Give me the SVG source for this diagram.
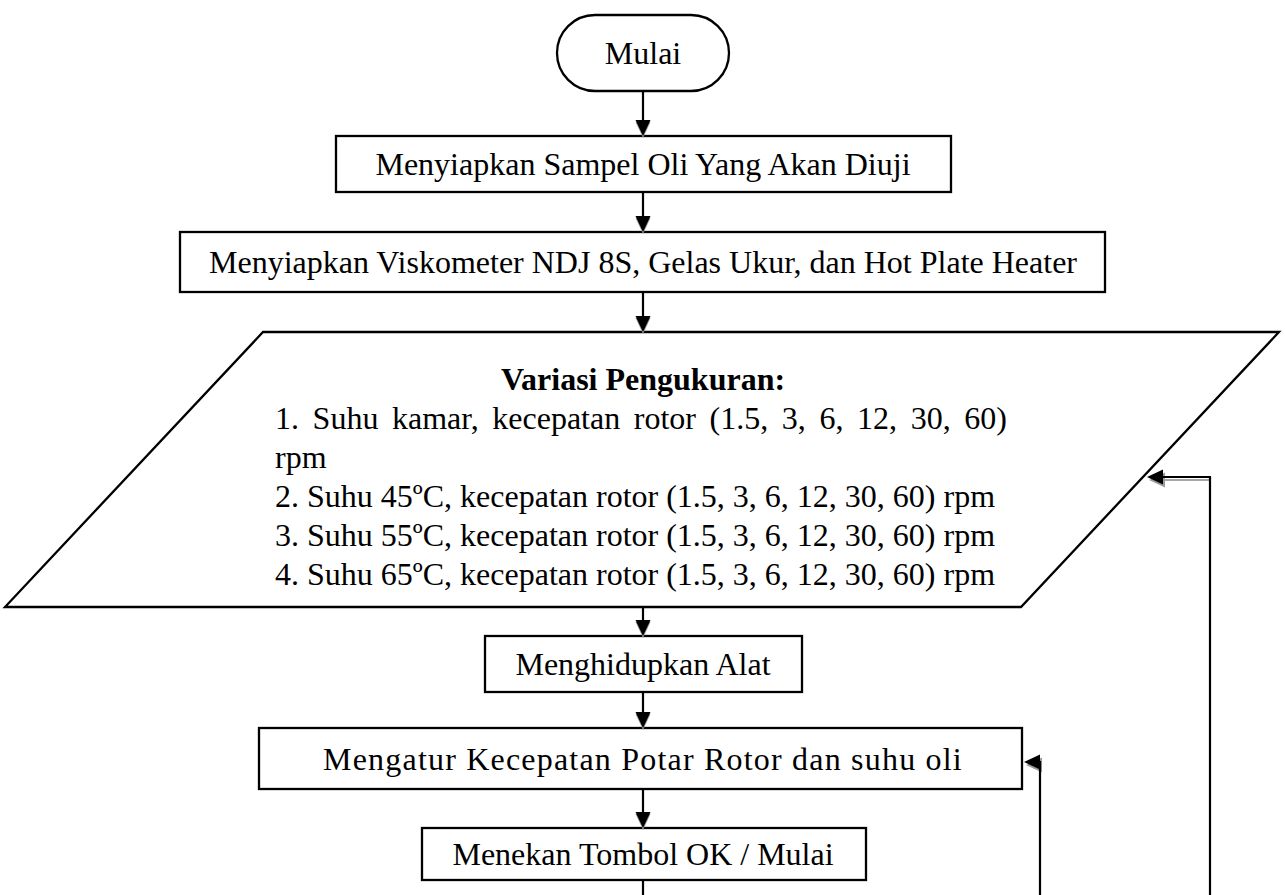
<svg xmlns="http://www.w3.org/2000/svg" width="1285" height="895" viewBox="0 0 1285 895">
  <style>
    .shape { fill: #ffffff; stroke: #000000; stroke-width: 2.3; }
    .label { font-family: "Liberation Serif", "Times New Roman", serif; font-size: 32px; fill: #000000; }
    .mid { text-anchor: middle; }
    .title { font-weight: bold; }
    .wire { fill: none; stroke: #000000; stroke-width: 2.2; }
    .wire-shadow { fill: none; stroke: #a6a6a6; stroke-width: 2.2; }
    .head { fill: #000000; }
    .head-shadow { fill: #9a9a9a; }
  </style>
  <defs>
    <!-- arrowheads pointing down and left, tip at origin -->
    <path id="down" d="M-7.5,-16 L7.5,-16 L0,0 Z"/>
    <path id="left" d="M16,-7.5 L16,7.5 L0,0 Z"/>
  </defs>
  <rect width="1285" height="895" fill="#ffffff"/>

  <g id="mulai">
    <rect class="shape" x="557" y="15" width="172" height="76" rx="38" ry="38"/>
    <text class="label mid" x="643" y="64">Mulai</text>
  </g>

  <g id="sampel">
    <rect class="shape" x="336" y="136" width="615" height="56"/>
    <text class="label mid" x="643" y="175">Menyiapkan Sampel Oli Yang Akan Diuji</text>
  </g>

  <g id="alat-ukur">
    <rect class="shape" x="180" y="232" width="925" height="60"/>
    <text class="label mid" x="643" y="273">Menyiapkan Viskometer NDJ 8S, Gelas Ukur, dan Hot Plate Heater</text>
  </g>

  <g id="variasi">
    <polygon class="shape" points="263,332 1279,332 1021,607 5,607"/>
    <text class="label mid title" x="643" y="390">Variasi Pengukuran:</text>
    <text class="label" x="275" y="429" word-spacing="5.6">1. Suhu kamar, kecepatan rotor (1.5, 3, 6, 12, 30, 60)</text>
    <text class="label" x="275" y="468">rpm</text>
    <text class="label" x="275" y="507">2. Suhu 45ºC, kecepatan rotor (1.5, 3, 6, 12, 30, 60) rpm</text>
    <text class="label" x="275" y="546">3. Suhu 55ºC, kecepatan rotor (1.5, 3, 6, 12, 30, 60) rpm</text>
    <text class="label" x="275" y="585">4. Suhu 65ºC, kecepatan rotor (1.5, 3, 6, 12, 30, 60) rpm</text>
  </g>

  <g id="hidupkan">
    <rect class="shape" x="485" y="636" width="317" height="56"/>
    <text class="label mid" x="643" y="675">Menghidupkan Alat</text>
  </g>

  <g id="atur">
    <rect class="shape" x="259" y="728" width="763" height="61"/>
    <text class="label mid" x="643" y="770" letter-spacing="1.2">Mengatur Kecepatan Potar Rotor dan suhu oli</text>
  </g>

  <g id="tekan">
    <rect class="shape" x="422" y="828" width="444" height="52"/>
    <text class="label mid" x="643" y="865">Menekan Tombol OK / Mulai</text>
  </g>

  <g id="connectors">
    <!-- main flow -->
    <line class="wire" x1="643" y1="91" x2="643" y2="122"/>
    <use href="#down" class="head-shadow" x="643" y="138"/>
    <use href="#down" class="head" x="643" y="136"/>

    <line class="wire" x1="643" y1="192" x2="643" y2="218"/>
    <use href="#down" class="head-shadow" x="643" y="234"/>
    <use href="#down" class="head" x="643" y="232"/>

    <line class="wire" x1="643" y1="292" x2="643" y2="318"/>
    <use href="#down" class="head-shadow" x="643" y="334"/>
    <use href="#down" class="head" x="643" y="332"/>

    <line class="wire" x1="643" y1="607" x2="643" y2="622"/>
    <use href="#down" class="head-shadow" x="643" y="638"/>
    <use href="#down" class="head" x="643" y="636"/>

    <line class="wire" x1="643" y1="692" x2="643" y2="714"/>
    <use href="#down" class="head-shadow" x="643" y="730"/>
    <use href="#down" class="head" x="643" y="728"/>

    <line class="wire" x1="643" y1="789" x2="643" y2="814"/>
    <use href="#down" class="head-shadow" x="643" y="830"/>
    <use href="#down" class="head" x="643" y="828"/>

    <line class="wire" x1="643" y1="880" x2="643" y2="895"/>

    <!-- loop back to the rotor speed / oil temperature step -->
    <line class="wire-shadow" x1="1034" y1="765" x2="1039" y2="765"/>
    <use href="#left" class="head-shadow" x="1026" y="765"/>
    <polyline class="wire" points="1040,895 1040,762 1034,762"/>
    <use href="#left" class="head" x="1024" y="762"/>

    <!-- loop back to the measurement variations -->
    <line class="wire-shadow" x1="1163" y1="480" x2="1209" y2="480"/>
    <use href="#left" class="head-shadow" x="1149" y="480"/>
    <polyline class="wire" points="1210,895 1210,477 1160,477"/>
    <use href="#left" class="head" x="1147" y="477"/>
  </g>
</svg>
